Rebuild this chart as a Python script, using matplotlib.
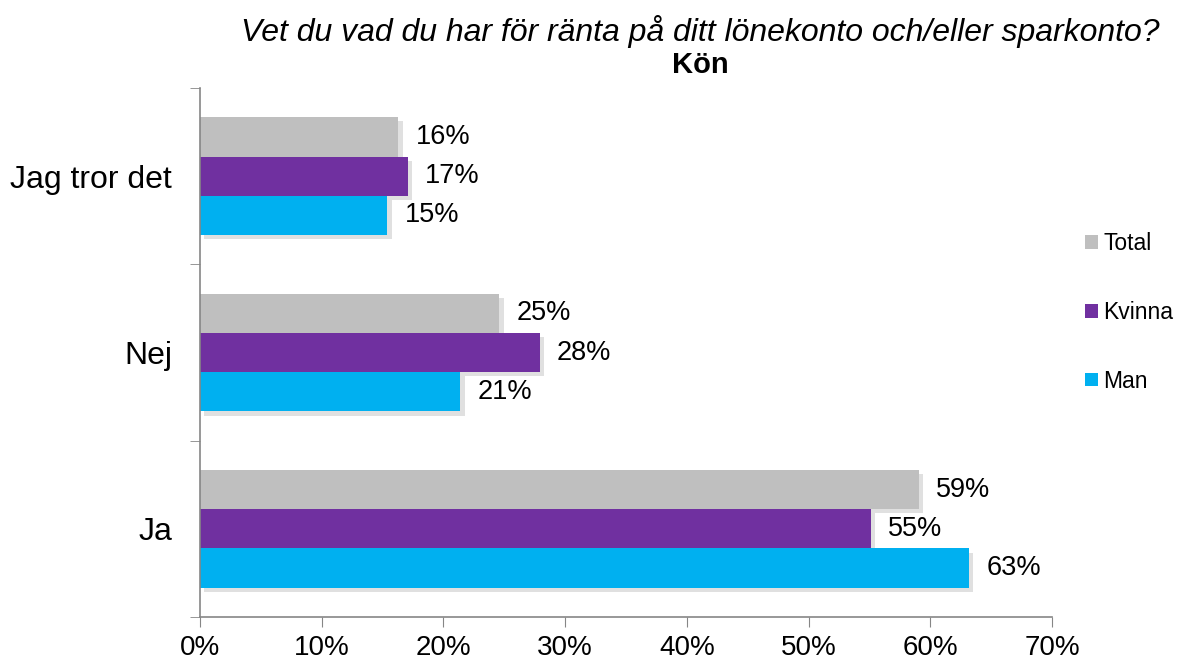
import numpy as np
import matplotlib.pyplot as plt
import matplotlib.patheffects as pe
from matplotlib.patches import Patch
from matplotlib.ticker import PercentFormatter

plt.rcParams['font.family'] = ['Liberation Sans', 'DejaVu Sans']

# Data (percent)
categories = ['Jag tror det', 'Nej', 'Ja']
series = ['Total', 'Kvinna', 'Man']
colors = ['#bfbfbf', '#7030a0', '#00b0f0']
total = [16.3, 24.6, 59.1]
kvinna = [17.1, 27.9, 55.1]
man = [15.4, 21.4, 63.2]
labels_total = ['16%', '25%', '59%']
labels_kvinna = ['17%', '28%', '55%']
labels_man = ['15%', '21%', '63%']

values = [total, kvinna, man]
value_labels = [labels_total, labels_kvinna, labels_man]

fig = plt.figure(figsize=(11.85, 6.64), dpi=100)
ax = fig.add_axes([200 / 1185, 47 / 664, 852 / 1185, 529 / 664])

n = len(categories)
ypos = np.arange(n)[::-1]  # Jag tror det on top
h = 0.223
shadow = [pe.SimplePatchShadow(offset=(3, -3), shadow_rgbFace='#999999', alpha=0.3), pe.Normal()]

for i, (name, vals, lbls, col) in enumerate(zip(series, values, value_labels, colors)):
    y = ypos + h - i * h
    bars = ax.barh(y, vals, height=h, color=col, zorder=2)
    for b in bars:
        b.set_path_effects(shadow)
    for yy, v, t in zip(y, vals, lbls):
        ax.text(v + 1.4, yy, t, va='center', ha='left', fontsize=19.5, color='black')

ax.set_xlim(0, 70)
ax.set_ylim(-0.5, n - 0.5)
ax.set_xticks(np.arange(0, 71, 10))
ax.xaxis.set_major_formatter(PercentFormatter(decimals=0))
ax.set_yticks(ypos)
ax.set_yticklabels(categories, fontsize=23)
ax.set_yticks(np.arange(-0.5, n, 1), minor=True)
ax.tick_params(axis='y', which='major', length=0, pad=20)
ax.tick_params(axis='y', which='minor', length=7, color='#868686', direction='out')
ax.tick_params(axis='x', length=7, color='#868686', labelsize=20, pad=6)

for s in ['top', 'right']:
    ax.spines[s].set_visible(False)
for s in ['left', 'bottom']:
    ax.spines[s].set_color('#868686')
    ax.spines[s].set_linewidth(1.2)

handles = [Patch(facecolor=c, label=s) for s, c in zip(series, colors)]
fig.legend(handles=handles, loc='upper left', bbox_to_anchor=(1085 / 1185, 1 - 232 / 664), frameon=False,
           fontsize=16.5, handlelength=0.55, handleheight=0.55, handletextpad=0.25,
           labelspacing=2.0, borderpad=0, borderaxespad=0)

fig.text(700 / 1185, 1 - 32 / 664, 'Vet du vad du har för ränta på ditt lönekonto och/eller sparkonto?',
         ha='center', va='center', fontsize=23, style='italic')
fig.text(700 / 1185, 1 - 65 / 664, 'Kön', ha='center', va='center', fontsize=21, weight='bold')

fig.savefig('out.png', dpi=100)
